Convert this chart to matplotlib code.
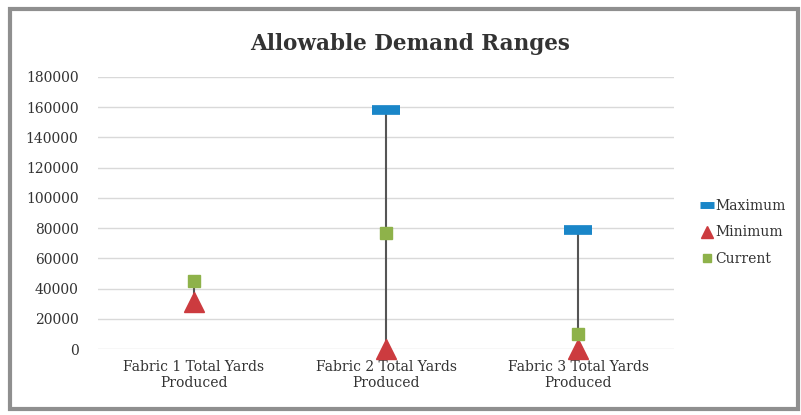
import matplotlib
matplotlib.use("Agg")
import math
import matplotlib.pyplot as plt
from matplotlib.patches import Rectangle
from matplotlib.lines import Line2D

categories = ["Fabric 1 Total Yards\nProduced", "Fabric 2 Total Yards\nProduced", "Fabric 3 Total Yards\nProduced"]
maximum = [float('nan'), 158000, 79000]
minimum = [31000, 0, 0]
current = [45000, 77000, 10000]
yticks = [0, 20000, 40000, 60000, 80000, 100000, 120000, 140000, 160000, 180000]

plt.rcParams['font.family'] = ['DejaVu Serif']
fig = plt.figure(figsize=(8.01, 4.15), dpi=100)
fig.patch.set_facecolor('white')
fig.add_artist(Rectangle((0.012, 0.014), 0.984, 0.964, transform=fig.transFigure,
                         fill=False, edgecolor='#8f8f8f', linewidth=3))

ax = fig.add_axes([0.1223, 0.159, 0.7192, 0.6555])
x = list(range(len(categories)))
for xi, hi, lo, cu in zip(x, maximum, minimum, current):
    vals = [v for v in (hi, lo, cu) if not math.isnan(v)]
    ax.plot([xi, xi], [min(vals), max(vals)], color='#555555', linewidth=1.5, zorder=2)
ax.plot(x, maximum, linestyle='none', marker='_', markersize=20, markeredgewidth=7,
        color='#1a86c8', zorder=3, clip_on=False)
ax.plot(x, minimum, linestyle='none', marker='^', markersize=14, color='#cc3b3f', zorder=3,
        clip_on=False)
ax.plot(x, current, linestyle='none', marker='s', markersize=9, color='#8eb24a', zorder=4,
        clip_on=False)

ax.set_xlim(-0.5, 2.5)
ax.set_ylim(0, 180000)
ax.set_yticks(yticks)
ax.set_yticklabels([str(v) for v in yticks], fontsize=10, color='#333333')
ax.set_xticks(x)
ax.set_xticklabels(categories, fontsize=10, color='#333333')
ax.grid(axis='y', color='#d9d9d9', linewidth=1)
ax.set_axisbelow(True)
for s in ax.spines.values():
    s.set_visible(False)
ax.tick_params(axis='y', length=0, pad=14)
ax.tick_params(axis='x', length=0, pad=8)

fig.text(0.512, 0.895, "Allowable Demand Ranges", ha='center', va='center',
         fontsize=15.5, fontweight='bold', color='#333333')

handles = [
    Line2D([], [], linestyle='none', marker='_', markersize=10, markeredgewidth=5, color='#1a86c8'),
    Line2D([], [], linestyle='none', marker='^', markersize=8, color='#cc3b3f'),
    Line2D([], [], linestyle='none', marker='s', markersize=6, color='#8eb24a'),
]
fig.legend(handles, ["Maximum", "Minimum", "Current"], loc='center left',
           bbox_to_anchor=(0.86, 0.44), frameon=False, fontsize=10,
           handlelength=0.8, handletextpad=0.2, labelspacing=0.9, labelcolor='#333333')

fig.savefig("out.png", dpi=100)
